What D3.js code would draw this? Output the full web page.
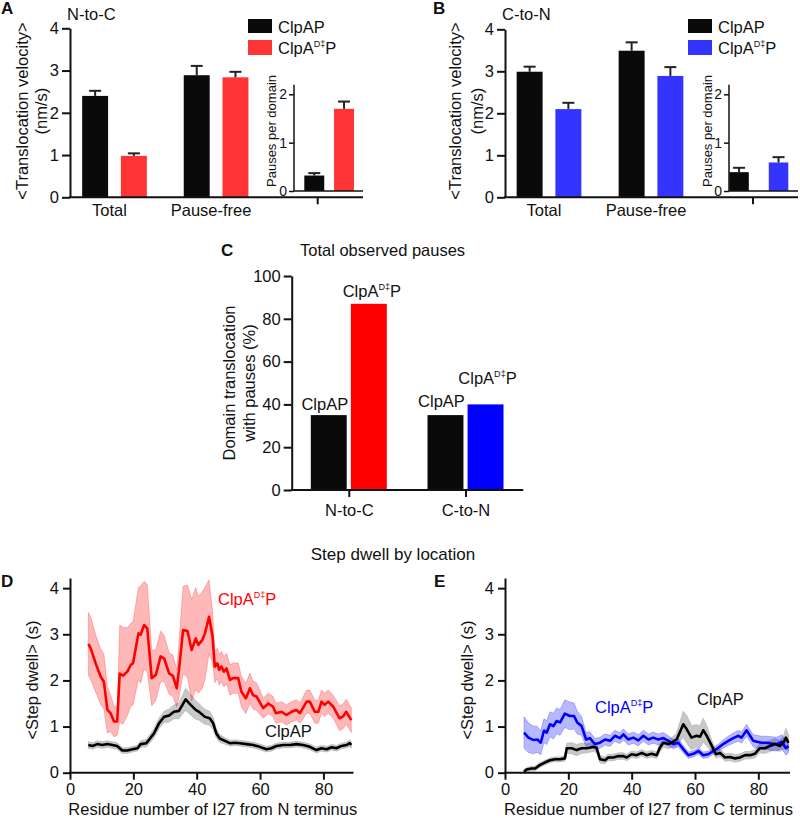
<!DOCTYPE html>
<html><head><meta charset="utf-8">
<script src="https://cdn.jsdelivr.net/npm/d3@7"></script>
<style>
body{margin:0;background:#fff}
svg{display:block}
text{font-family:"Liberation Sans",Arial,Helvetica,sans-serif}
</style>
</head><body>
<svg id="fig" width="800" height="818"></svg>
<script>
// ---------------- DATA ----------------
const velCategories = ["Total", "Pause-free"];
const seriesKeys = ["ClpAP", "mutant"];
const velTicks = [0, 1, 2, 3, 4];
const pauseTicks = [0, 1, 2];

// Panel A (N-to-C)
const aClpAP = [2.40, 2.89];
const aClpAPErr = [0.12, 0.22];
const aMutant = [0.98, 2.84];
const aMutantErr = [0.06, 0.13];
const aPauses = [0.32, 1.70];
const aPausesErr = [0.05, 0.15];

// Panel B (C-to-N)
const bClpAP = [2.99, 3.49];
const bClpAPErr = [0.12, 0.20];
const bMutant = [2.10, 2.89];
const bMutantErr = [0.15, 0.21];
const bPauses = [0.39, 0.59];
const bPausesErr = [0.09, 0.11];

// Panel C
const cCategories = ["N-to-C", "C-to-N"];
const cClpAP = [35, 35];
const cMutant = [87, 40];
const cTicks = [0, 20, 40, 60, 80, 100];

// Panels D/E
const dwellTicks = [0, 1, 2, 3, 4];
const residueTicks = [0, 20, 40, 60, 80];

const dRedX = [5.8,6.5,8.1,9.7,10.7,11.8,12.8,13.9,14.9,15.7,16.7,18.1,19.2,19.9,21.6,22.3,23.4,24.4,25.8,27.1,28.6,29.7,31.3,32.5,33.7,34.4,35.7,37.1,38.4,39.7,40.5,41.8,42.6,43.9,45.0,45.7,46.5,47.1,47.8,48.6,49.4,50.5,51.5,53.1,54.1,55.5,56.8,57.8,58.9,61.0,62.6,64.1,65.0,66.8,68.3,69.9,71.5,72.6,74.7,75.7,77.3,78.4,79.4,80.4,81.5,83.1,85.1,86.2,87.2,88.8];
const dRedY = [2.79,2.70,2.37,2.08,1.97,1.36,1.29,1.11,1.11,2.15,2.10,2.19,2.34,2.37,3.02,2.99,3.20,3.13,2.05,2.12,2.52,2.48,2.15,2.10,1.83,2.23,3.09,3.07,2.66,2.91,2.77,2.88,3.02,3.38,2.95,2.30,2.37,2.23,2.30,2.19,2.26,2.01,2.05,2.05,1.76,1.61,1.83,1.68,1.65,1.40,1.50,1.43,1.29,1.32,1.25,1.32,1.36,1.29,1.54,1.54,1.32,1.32,1.54,1.47,1.54,1.43,1.18,1.22,1.32,1.14];
const dRedErr = [0.68,0.68,0.62,0.60,0.60,0.50,0.40,0.33,0.30,1.05,1.05,0.95,0.90,0.90,1.00,1.05,0.95,0.95,0.60,0.55,0.55,0.50,0.45,0.45,0.40,0.60,0.95,1.00,1.10,1.10,1.05,1.05,1.00,0.80,0.55,0.35,0.33,0.33,0.33,0.33,0.33,0.33,0.33,0.33,0.33,0.33,0.33,0.30,0.30,0.22,0.22,0.22,0.22,0.22,0.22,0.22,0.22,0.22,0.25,0.25,0.25,0.25,0.25,0.25,0.25,0.25,0.27,0.27,0.27,0.27];

const dBlackX = [5.8,7.1,8.6,10.2,11.8,13.4,14.9,16.5,18.1,19.7,21.3,22.3,24.1,24.9,26.5,28.1,29.7,31.3,32.8,34.4,35.5,36.5,38.1,39.7,40.7,42.6,44.1,45.2,46.2,47.3,48.9,50.5,52.1,53.6,55.7,57.8,59.9,62.0,63.6,65.2,67.3,69.4,71.5,73.6,75.7,77.8,79.4,81.0,82.6,84.1,85.7,87.3,88.3,88.8];
const dBlackY = [0.60,0.58,0.62,0.60,0.62,0.60,0.58,0.48,0.48,0.51,0.53,0.62,0.64,0.71,0.85,1.07,1.21,1.24,1.32,1.34,1.47,1.59,1.47,1.36,1.32,1.21,1.18,1.07,0.85,0.74,0.69,0.64,0.65,0.64,0.62,0.60,0.56,0.51,0.53,0.58,0.60,0.60,0.62,0.60,0.56,0.49,0.53,0.51,0.55,0.53,0.58,0.60,0.64,0.60];
const dBlackErr = [0.07,0.07,0.07,0.07,0.07,0.07,0.07,0.06,0.06,0.06,0.06,0.07,0.08,0.09,0.10,0.11,0.12,0.14,0.15,0.17,0.20,0.24,0.22,0.20,0.18,0.16,0.15,0.13,0.10,0.08,0.07,0.06,0.06,0.06,0.06,0.06,0.06,0.06,0.06,0.06,0.06,0.06,0.06,0.06,0.06,0.06,0.06,0.06,0.06,0.06,0.06,0.06,0.07,0.07];

const eBlueX = [6.0,7.4,8.9,10.2,11.3,12.3,13.2,14.2,15.3,16.3,17.4,18.9,20.5,21.8,22.8,24.2,25.6,26.8,28.4,30.0,31.6,33.2,34.7,36.3,37.4,38.9,40.5,42.1,43.7,45.3,46.8,48.4,50.0,51.6,53.2,54.7,56.3,57.9,59.5,61.1,62.6,64.2,65.8,67.4,68.9,70.5,72.1,73.7,74.7,76.3,77.4,78.4,79.5,81.1,82.6,84.2,85.8,87.4,88.7,89.5];
const eBlueY = [0.87,0.76,0.71,0.72,0.65,0.91,0.87,1.05,1.01,1.12,1.09,1.28,1.23,1.23,1.09,1.01,0.72,0.75,0.62,0.65,0.72,0.69,0.80,0.75,0.83,0.72,0.76,0.70,0.80,0.72,0.76,0.72,0.75,0.69,0.62,0.65,0.51,0.38,0.41,0.47,0.38,0.40,0.47,0.54,0.62,0.69,0.75,0.80,0.76,0.92,0.80,0.69,0.67,0.65,0.65,0.63,0.62,0.67,0.53,0.58];
const eBlueErr = [0.34,0.32,0.30,0.28,0.26,0.26,0.26,0.27,0.28,0.28,0.28,0.30,0.30,0.28,0.25,0.20,0.15,0.14,0.12,0.12,0.12,0.12,0.12,0.12,0.12,0.12,0.12,0.12,0.12,0.12,0.12,0.12,0.12,0.11,0.10,0.09,0.08,0.07,0.07,0.07,0.07,0.07,0.07,0.08,0.09,0.10,0.11,0.12,0.12,0.13,0.13,0.13,0.14,0.14,0.14,0.15,0.15,0.15,0.15,0.15];

const eBlackX = [6.0,6.8,8.4,9.5,11.1,12.6,14.2,15.8,17.4,18.9,19.5,21.1,22.6,24.2,25.8,27.9,28.9,30.0,31.6,32.6,34.2,35.8,37.4,38.4,40.0,41.6,43.2,44.7,46.3,47.9,48.9,50.0,51.6,52.6,54.2,56.3,57.4,58.9,60.5,61.6,62.6,63.7,65.3,66.6,67.9,69.5,71.1,72.6,74.2,75.8,77.4,78.9,80.5,82.1,83.7,85.3,86.8,87.9,88.7,89.5];
const eBlackY = [0.02,0.07,0.09,0.09,0.17,0.22,0.27,0.29,0.29,0.31,0.53,0.53,0.49,0.53,0.53,0.56,0.54,0.29,0.27,0.33,0.33,0.36,0.36,0.33,0.40,0.38,0.43,0.38,0.41,0.38,0.54,0.65,0.62,0.65,0.72,1.05,0.94,0.76,0.80,0.78,0.92,0.80,0.58,0.40,0.43,0.33,0.34,0.31,0.33,0.38,0.38,0.41,0.53,0.53,0.58,0.62,0.58,0.65,0.76,0.65];
const eBlackErr = [0.04,0.04,0.05,0.05,0.05,0.05,0.05,0.05,0.05,0.06,0.11,0.12,0.12,0.11,0.10,0.10,0.10,0.08,0.07,0.07,0.07,0.07,0.07,0.07,0.07,0.07,0.07,0.07,0.07,0.07,0.09,0.10,0.10,0.10,0.14,0.28,0.30,0.26,0.24,0.24,0.26,0.22,0.12,0.08,0.08,0.08,0.08,0.08,0.08,0.08,0.08,0.09,0.10,0.11,0.12,0.12,0.12,0.14,0.20,0.18];

// ---------------- DRAWING ----------------
const svg = d3.select("#fig");
const AX = 2;  // axis stroke width
const FS = 16.5;
const fmtInt = d3.format("d");

function txt(g, x, y, s, opt = {}) {
  return g.append("text").attr("x", x).attr("y", y).text(s)
    .attr("font-size", opt.size || FS)
    .attr("fill", opt.color || "#111")
    .attr("text-anchor", opt.anchor || "start")
    .attr("font-weight", opt.weight || "normal");
}
function mutLabel(g, x, y, size, color, anchor) {
  const t = g.append("text").attr("x", x).attr("y", y).attr("font-size", size)
    .attr("fill", color).attr("text-anchor", anchor || "start");
  t.append("tspan").text("ClpA");
  t.append("tspan").attr("font-size", size * 0.55).attr("dy", -size * 0.4).text("D‡");
  t.append("tspan").attr("dy", size * 0.4).text("P");
  return t;
}
function rotLabel(g, x, y, s, size) {
  g.append("text").attr("transform", `translate(${x},${y}) rotate(-90)`)
    .attr("text-anchor", "middle").attr("dominant-baseline", "central")
    .attr("font-size", size || FS).attr("fill", "#111").text(s);
}
function styleAxis(a, sw, fs) {
  a.select(".domain").attr("stroke", "#111").attr("stroke-width", sw || AX);
  a.selectAll(".tick line").attr("stroke", "#111").attr("stroke-width", sw || AX);
  a.selectAll(".tick text").attr("font-size", fs || FS).attr("fill", "#111")
    .attr("font-family", '"Liberation Sans",Arial,Helvetica,sans-serif');
}
function errBar(g, x, yTop, yEnd, color) {
  g.append("line").attr("x1", x).attr("x2", x).attr("y1", yTop).attr("y2", yEnd)
    .attr("stroke", color).attr("stroke-width", 2);
  g.append("line").attr("x1", x - 6).attr("x2", x + 6).attr("y1", yEnd).attr("y2", yEnd)
    .attr("stroke", color).attr("stroke-width", 2);
}

function velocityPanel(cfg) {
  const g = svg.append("g");
  const y = d3.scaleLinear().domain([0, 4]).range([cfg.y0, cfg.y4]);
  const xg = d3.scalePoint().domain([...velCategories, "inset"]).range([cfg.gc0, cfg.gcInset]);
  const sub = d3.scaleBand().domain(seriesKeys).range([-32.35, 32.35]).paddingInner(0.33);
  const vals = {ClpAP: cfg.clpap, mutant: cfg.mutant};
  const errs = {ClpAP: cfg.clpapErr, mutant: cfg.mutantErr};
  const cols = {ClpAP: "#0a0a0a", mutant: cfg.color};
  seriesKeys.forEach(k => {
    velCategories.forEach((c, i) => {
      const x0 = xg(c) + sub(k);
      g.append("rect").attr("x", x0).attr("width", sub.bandwidth())
        .attr("y", y(vals[k][i])).attr("height", y(0) - y(vals[k][i])).attr("fill", cols[k]);
      errBar(g, x0 + sub.bandwidth() / 2, y(vals[k][i]), y(vals[k][i] + errs[k][i]), "#222");
    });
  });
  // y axis
  const ya = g.append("g").attr("transform", `translate(${cfg.axX},0)`)
    .call(d3.axisLeft(y).tickValues(velTicks).tickFormat(fmtInt).tickSize(8).tickSizeOuter(0).tickPadding(3));
  styleAxis(ya);
  // x axis line + tick at inset slot
  g.append("line").attr("x1", cfg.axX - 1).attr("x2", cfg.xEnd).attr("y1", y(0)).attr("y2", y(0))
    .attr("stroke", "#111").attr("stroke-width", AX);
  g.append("line").attr("x1", xg("inset")).attr("x2", xg("inset")).attr("y1", y(0)).attr("y2", y(0) + 7)
    .attr("stroke", "#111").attr("stroke-width", AX);
  velCategories.forEach(c => txt(g, xg(c) - 5, 216, c, {anchor: "middle"}));
  rotLabel(g, cfg.labX1, 111, "<Translocation velocity>");
  rotLabel(g, cfg.labX2, 111, "(nm/s)");
  // inset
  const yi = d3.scaleLinear().domain([0, 2]).range([191, 94.3]);
  const xi = d3.scaleBand().domain(seriesKeys).range(cfg.insetBars).paddingInner(cfg.insetPad);
  seriesKeys.forEach((k, i) => {
    g.append("rect").attr("x", xi(k)).attr("width", xi.bandwidth())
      .attr("y", yi(cfg.pauses[i])).attr("height", yi(0) - yi(cfg.pauses[i])).attr("fill", cols[k]);
    errBar(g, xi(k) + xi.bandwidth() / 2, yi(cfg.pauses[i]), yi(cfg.pauses[i] + cfg.pausesErr[i]), "#222");
  });
  const yia = g.append("g").attr("transform", `translate(${cfg.insetX},0)`)
    .call(d3.axisLeft(yi).tickValues(pauseTicks).tickFormat(fmtInt).tickSize(5).tickSizeOuter(0).tickPadding(2));
  styleAxis(yia, 1.5, 14);
  yia.select(".domain").attr("d", `M0,${yi(0)}V${yi(2.2)}`);
  g.append("line").attr("x1", cfg.insetX).attr("x2", cfg.xEnd).attr("y1", yi(0)).attr("y2", yi(0))
    .attr("stroke", "#111").attr("stroke-width", 1.5);
  rotLabel(g, cfg.insetLabX, 131, "Pauses per domain", 13);
  // titles & legend
  txt(g, cfg.letterX, 14, cfg.letter, {weight: "bold", size: 17});
  txt(g, cfg.titleX, 20, cfg.title);
  g.append("rect").attr("x", cfg.legX).attr("y", 19).attr("width", 24).attr("height", 14).attr("fill", "#0a0a0a");
  g.append("rect").attr("x", cfg.legX).attr("y", 40).attr("width", 24).attr("height", 15).attr("fill", cfg.color);
  txt(g, cfg.legX + 30, 32.5, "ClpAP");
  mutLabel(g, cfg.legX + 30, 53.5, FS, "#111");
}

velocityPanel({
  y0: 197.3, y4: 28.3, axX: 70, xEnd: 363, gc0: 114.5, gcInset: 317.7,
  clpap: aClpAP, clpapErr: aClpAPErr, mutant: aMutant, mutantErr: aMutantErr, color: "#ff3434",
  pauses: aPauses, pausesErr: aPausesErr, insetBars: [304.3, 354], insetPad: 0.33, insetX: 294,
  insetLabX: 271, labX1: 22, labX2: 41, letter: "A", letterX: 1, title: "N-to-C", titleX: 67, legX: 248
});
velocityPanel({
  y0: 197.3, y4: 29.3, axX: 505, xEnd: 798, gc0: 549, gcInset: 753,
  clpap: bClpAP, clpapErr: bClpAPErr, mutant: bMutant, mutantErr: bMutantErr, color: "#3434ff",
  pauses: bPauses, pausesErr: bPausesErr, insetBars: [729.3, 788.3], insetPad: 0.506, insetX: 729,
  insetLabX: 707, labX1: 455, labX2: 477, letter: "B", letterX: 433, title: "C-to-N", titleX: 502, legX: 688
});

// ---- Panel C ----
(function () {
  const g = svg.append("g");
  const y = d3.scaleLinear().domain([0, 100]).range([490, 276]);
  const xg = d3.scalePoint().domain(cCategories).range([348.8, 465.5]);
  const sub = d3.scaleBand().domain(seriesKeys).range([-38, 38]).paddingInner(0.103);
  const vals = {ClpAP: cClpAP, mutant: cMutant};
  const cols = {ClpAP: ["#0a0a0a", "#0a0a0a"], mutant: ["#ff0000", "#0000ff"]};
  seriesKeys.forEach(k => cCategories.forEach((c, i) => {
    g.append("rect").attr("x", xg(c) + sub(k)).attr("width", sub.bandwidth())
      .attr("y", y(vals[k][i])).attr("height", y(0) - y(vals[k][i])).attr("fill", cols[k][i]);
  }));
  const ya = g.append("g").attr("transform", "translate(291.7,0)")
    .call(d3.axisLeft(y).tickValues(cTicks).tickFormat(fmtInt).tickSize(8).tickSizeOuter(0).tickPadding(3));
  styleAxis(ya);
  const xa = g.append("g").attr("transform", `translate(0,${y(0)})`)
    .call(d3.axisBottom(xg).tickSize(7).tickSizeOuter(0).tickPadding(4));
  styleAxis(xa);
  xa.select(".domain").attr("d", `M290.7,0H523.3`);
  xa.selectAll(".tick text").attr("dy", "0.9em");
  // bar labels
  txt(g, xg("N-to-C") + sub("ClpAP") + sub.bandwidth() / 2 - 4, 409.5, "ClpAP", {anchor: "middle"});
  mutLabel(g, xg("N-to-C") + sub("mutant") + sub.bandwidth() / 2 + 3, 297, FS, "#111", "middle");
  txt(g, xg("C-to-N") + sub("ClpAP") + sub.bandwidth() / 2 - 4, 407, "ClpAP", {anchor: "middle"});
  mutLabel(g, xg("C-to-N") + sub("mutant") + sub.bandwidth() / 2 + 2, 383.5, FS, "#111", "middle");
  txt(g, 300, 256, "Total observed pauses", {size: 16.5});
  txt(g, 221, 256, "C", {weight: "bold", size: 17});
  rotLabel(g, 229, 383, "Domain translocation");
  rotLabel(g, 249, 383, "with pauses (%)");
})();

// ---- Panels D / E ----
function dwellPanel(cfg) {
  const g = svg.append("g");
  const x = d3.scaleLinear().domain([0, cfg.xMax]).range([cfg.x0, cfg.x1]);
  const y = d3.scaleLinear().domain([0, 4.22]).range([772.7, 578]);
  const area = d3.area().x(d => x(d.x)).y0(d => y(d.y - d.e)).y1(d => y(d.y + d.e));
  const line = d3.line().x(d => x(d.x)).y(d => y(d.y));
  const pts = (xs, ys, es) => xs.map((v, i) => ({x: v, y: ys[i], e: es[i]}));
  const blk = pts(cfg.bx, cfg.by, cfg.be);
  const col = pts(cfg.cx, cfg.cy, cfg.ce);
  g.append("path").datum(blk).attr("d", area).attr("fill", "#c8c8c8").attr("stroke", "#b8b8b8").attr("stroke-width", 0.8);
  g.append("path").datum(col).attr("d", area).attr("fill", cfg.band).attr("fill-opacity", 0.28)
    .attr("stroke", cfg.band).attr("stroke-opacity", 0.3).attr("stroke-width", 0.8);
  g.append("path").datum(col).attr("d", line).attr("fill", "none").attr("stroke", cfg.color).attr("stroke-width", 2.6).attr("stroke-linejoin", "round");
  g.append("path").datum(blk).attr("d", line).attr("fill", "none").attr("stroke", "#000").attr("stroke-width", 2.6).attr("stroke-linejoin", "round");
  const ya = g.append("g").attr("transform", `translate(${cfg.x0},0)`)
    .call(d3.axisLeft(y).tickValues(dwellTicks).tickFormat(fmtInt).tickSize(7).tickSizeOuter(0).tickPadding(4));
  styleAxis(ya);
  const xa = g.append("g").attr("transform", "translate(0,772.7)")
    .call(d3.axisBottom(x).tickValues(residueTicks).tickFormat(fmtInt).tickSize(7).tickSizeOuter(0).tickPadding(4));
  styleAxis(xa);
  xa.select(".domain").attr("d", `M${cfg.x0 - 1},0H${cfg.x1}`);
  rotLabel(g, cfg.yLabX, 680, "<Step dwell> (s)");
  txt(g, (cfg.x0 + cfg.x1) / 2 + 1, 815, cfg.xLabel, {anchor: "middle"});
  txt(g, cfg.letterX, 587, cfg.letter, {weight: "bold", size: 17});
  mutLabel(g, cfg.mutLab[0], cfg.mutLab[1], FS, cfg.color);
  txt(g, cfg.clpLab[0], cfg.clpLab[1], "ClpAP");
}
dwellPanel({
  x0: 70, x1: 353.5, xMax: 89.5,
  bx: dBlackX, by: dBlackY, be: dBlackErr, cx: dRedX, cy: dRedY, ce: dRedErr,
  color: "#ff0000", band: "#ff0000", yLabX: 32, letter: "D", letterX: 1,
  xLabel: "Residue number of I27 from N terminus", mutLab: [218, 605], clpLab: [265, 737]
});
dwellPanel({
  x0: 505, x1: 790, xMax: 90,
  bx: eBlackX, by: eBlackY, be: eBlackErr, cx: eBlueX, cy: eBlueY, ce: eBlueErr,
  color: "#0000ff", band: "#0000ff", yLabX: 467, letter: "E", letterX: 434,
  xLabel: "Residue number of I27 from C terminus", mutLab: [595, 712.5], clpLab: [697, 705]
});
txt(svg, 393, 560, "Step dwell by location", {anchor: "middle", size: 17});
</script>
</body></html>
